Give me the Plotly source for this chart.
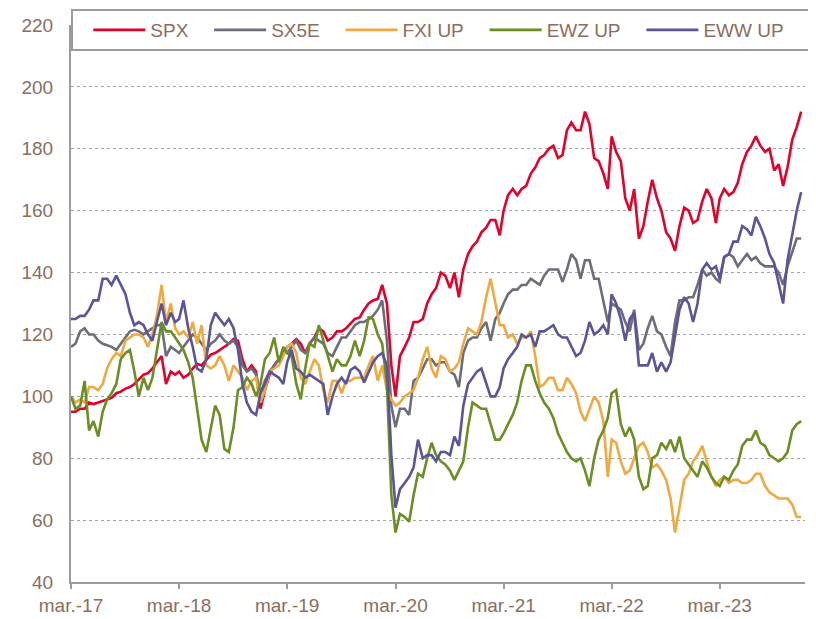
import plotly.graph_objects as go
import pandas as pd

# ---- data (semi-monthly readings, 1st and 16th of each month from Mar 2017) ----
months = pd.date_range("2017-03-01", "2023-12-01", freq="MS")
dates = []
for m in months:
    dates.append(m)
    dates.append(m + pd.Timedelta(days=15))
dates = dates[:163]

spx = [95, 95, 96, 96, 98, 97.5, 98, 98.5, 99, 99.5, 101, 101.5, 102.5, 103, 104, 105.5, 107, 107.5, 109, 111, 113,
       104, 108, 107, 108, 106, 107, 109, 110.5, 110, 112, 113.5, 114, 115, 116, 117, 118.5, 118, 112, 108, 110,
       108, 96, 102, 107, 110, 112, 114, 116, 117, 118.5, 117, 114, 117, 119, 122, 121, 118, 119, 121, 121,
       122, 123.5, 125, 125.5, 128, 130, 131, 131.5, 136, 130, 110, 100, 113, 116, 119, 124, 124, 125, 130, 133,
       135, 140, 139, 135, 140, 132, 141, 146, 148.5, 150, 153, 154.5, 157, 157, 152, 160, 165, 167, 165, 167,
       168, 172, 174, 177, 178, 180, 181, 177, 178, 186, 188.5, 186, 186, 192, 188, 177, 176, 172, 167, 184,
       179, 176, 164, 160, 167, 151, 155, 163, 170, 164, 160, 153, 151, 147, 155, 161, 160, 156, 157, 163,
       167, 164, 156, 164, 167, 165, 166, 169, 175, 179, 181, 184, 181, 179, 180, 173, 175, 168, 174, 183, 187, 192]

sx5e = [116, 117, 121, 122, 120, 120, 118, 117, 116.5, 116, 115, 117, 119, 121, 121.5, 121, 120, 121, 122, 123, 123,
        113, 116, 115, 114, 116, 118, 120, 119, 117, 115, 117, 118, 120, 118, 117, 118, 116, 110, 108, 109,
        107, 101, 105, 108, 110, 112, 114, 114, 116, 118, 115, 114, 117, 119, 118, 117, 114, 113, 116, 119,
        119, 121, 123, 124, 124, 125, 126, 128, 131, 118, 97, 90, 96, 96, 94, 105, 106, 109, 112, 112,
        110, 111, 111, 108, 107, 103, 114, 118, 119, 119, 122, 124, 118, 125, 127, 130, 133, 134.5, 134.5, 136,
        136, 138, 137, 136, 139, 141, 141, 141, 137, 141, 146, 144, 138, 144, 144, 138, 138, 131, 124, 130,
        129, 128, 124, 121, 128, 115, 117, 122, 126, 121, 120, 116, 113, 124, 131, 131, 132, 132, 136, 141,
        139, 140, 138, 137, 145, 146, 145, 142, 144, 146, 144, 145, 143, 142, 142, 142, 140, 136, 142, 147, 151, 151]

fxi = [100, 98, 99, 98, 103, 103, 102, 104, 109, 112, 114, 113, 118, 119, 120, 120, 119, 116, 120, 126, 136,
       124, 130, 122, 120, 121, 119, 124, 117, 123, 110, 109, 110, 113, 110, 105, 110, 108, 106, 102, 105,
       106, 98, 102, 108, 109, 110, 113, 116, 117, 114, 106, 104, 108, 112, 110, 102, 98, 105, 105, 101,
       105, 105, 106, 106, 106, 110, 113, 105, 110, 102, 99, 97, 98, 100, 101, 102, 106, 112, 116, 109,
       106, 113, 112, 108, 109, 111, 117, 122, 121, 120, 124, 132, 138, 130, 123, 123, 119, 120, 117, 119,
       119, 121, 113, 103, 104, 106, 106, 102, 102, 106, 104, 101, 95, 92, 96, 100, 98, 92, 74, 86,
       85, 79, 75, 76, 80, 84, 85, 82, 77, 78, 76, 73, 67, 56, 64, 73, 75, 79, 81, 84,
       79, 74, 71, 73, 74, 72, 73, 73, 72, 72, 73, 75, 75, 71, 69, 68, 67, 67, 67, 65, 61, 61]

ewz = [100, 96, 97, 105, 89, 92, 87, 95, 99, 101, 104, 112, 114, 115, 108, 100, 106, 102, 106, 115, 124,
       121, 121, 119, 117, 115, 111, 106, 96, 86, 82, 90, 97, 94, 83, 82, 90, 102, 103, 106, 104,
       100, 104, 112, 114, 119, 111, 116, 114, 113, 104, 99, 109, 117, 116, 123, 118, 113, 108, 112, 110,
       110, 113, 118, 113, 118, 125.5, 125, 120, 117, 104, 68, 56, 62, 61, 59.5, 68, 75, 74, 80, 85,
       81, 79, 78, 76, 73, 76, 79, 90, 98, 97, 96, 96, 91, 86, 86, 88, 91, 94, 98, 105,
       110, 110, 105, 101, 98, 96, 93, 88, 85, 82, 80, 79, 80, 76, 71, 80, 86, 89, 93, 101,
       102, 91, 87, 90, 86, 74, 70, 71, 80, 81, 85, 83, 86, 82, 87, 80, 78, 76, 74, 79,
       77, 74, 72, 71, 74, 73, 76, 78, 84, 86, 86, 89, 85, 84, 81, 80, 79, 80, 82, 89, 91, 92]

eww = [125, 125, 126, 126, 128, 131, 131, 138, 138, 136, 139, 136, 133, 127, 123, 124, 123, 120, 118, 124, 130,
       123, 127, 124, 125, 131, 122, 116, 109, 108, 112, 123, 127, 125, 123, 125, 122, 115, 104, 98, 95,
       94, 101, 104, 108, 107, 106, 104, 111, 115, 109, 108, 106, 107, 106, 105, 104, 94, 100, 104, 106,
       104, 108.5, 109.5, 108, 104.5, 108, 111, 113, 114, 110, 81, 64, 70, 72, 74, 77, 86, 80, 81, 81,
       79, 82, 82, 81, 87, 84, 97, 104, 106, 108, 109, 104, 100, 100, 103, 109, 112, 114, 116, 120,
       119, 120, 116, 121, 121, 122, 123, 120, 119, 119, 116, 113, 114, 118, 124, 120, 121, 123, 120, 133,
       130, 125, 118, 125, 127, 110, 110, 110, 114, 108, 111, 108, 111, 120, 128, 132, 130, 124, 130, 141,
       143, 141, 142, 138, 145, 146, 150, 150, 155, 154, 152, 158, 155, 151, 146, 143, 136, 130, 144, 152, 160, 166]

series_names = ["SPX", "SX5E", "FXI UP", "EWZ UP", "EWW UP"]
series_values = [spx, sx5e, fxi, ewz, eww]
series_colors = ["#e3002a", "#6c6d78", "#eeaa40", "#6b8e23", "#5a5499"]

tick_dates = ["2017-03-01", "2018-03-01", "2019-03-01", "2020-03-01",
              "2021-03-01", "2022-03-01", "2023-03-01"]
tick_labels = ["mar.-17", "mar.-18", "mar.-19", "mar.-20", "mar.-21", "mar.-22", "mar.-23"]

# ---- figure ----
label_color = "#8c6d5e"
axis_color = "#9a9ba3"
font_family = "Liberation Sans, Arial, sans-serif"
nb = "\u00a0"

fig = go.Figure()
n = len(series_names)
for i, (name, vals, col) in enumerate(zip(series_names, series_values, series_colors)):
    pad = nb * (5 if i == n - 1 else 3)
    fig.add_trace(go.Scatter(x=dates, y=vals, mode="lines", name=name + pad,
                             line=dict(color=col, width=2.6)))

# page body has an 8px margin, so the figure is sized 808x611
fig.update_layout(
    width=808, height=611,
    margin=dict(l=63, r=11, t=17, b=37, autoexpand=False),
    paper_bgcolor="white", plot_bgcolor="white",
    font=dict(family=font_family, size=19, color=label_color),
    showlegend=True,
    legend=dict(orientation="h", x=0.0, xanchor="left", y=1.0287, yanchor="top",
                bordercolor=axis_color, borderwidth=2, bgcolor="white",
                font=dict(size=19, color=label_color), itemwidth=52,
                title=dict(text=nb, side="left", font=dict(size=19))),
)
fig.update_xaxes(type="date", range=["2017-03-01", "2023-12-14"],
                 tickvals=tick_dates, ticktext=tick_labels,
                 showgrid=False, showline=True, linecolor=axis_color, linewidth=2,
                 ticks="outside", ticklen=5, tickwidth=2, tickcolor=axis_color,
                 tickfont=dict(size=19, color=label_color), zeroline=False)
fig.update_yaxes(range=[40, 220], dtick=20, showgrid=True, gridcolor="#a4a4ac",
                 griddash="dot", gridwidth=1, showline=True, linecolor=axis_color,
                 linewidth=2, ticks="", ticklabelstandoff=12,
                 tickfont=dict(size=19, color=label_color), zeroline=False)

fig.write_html("out.html")
